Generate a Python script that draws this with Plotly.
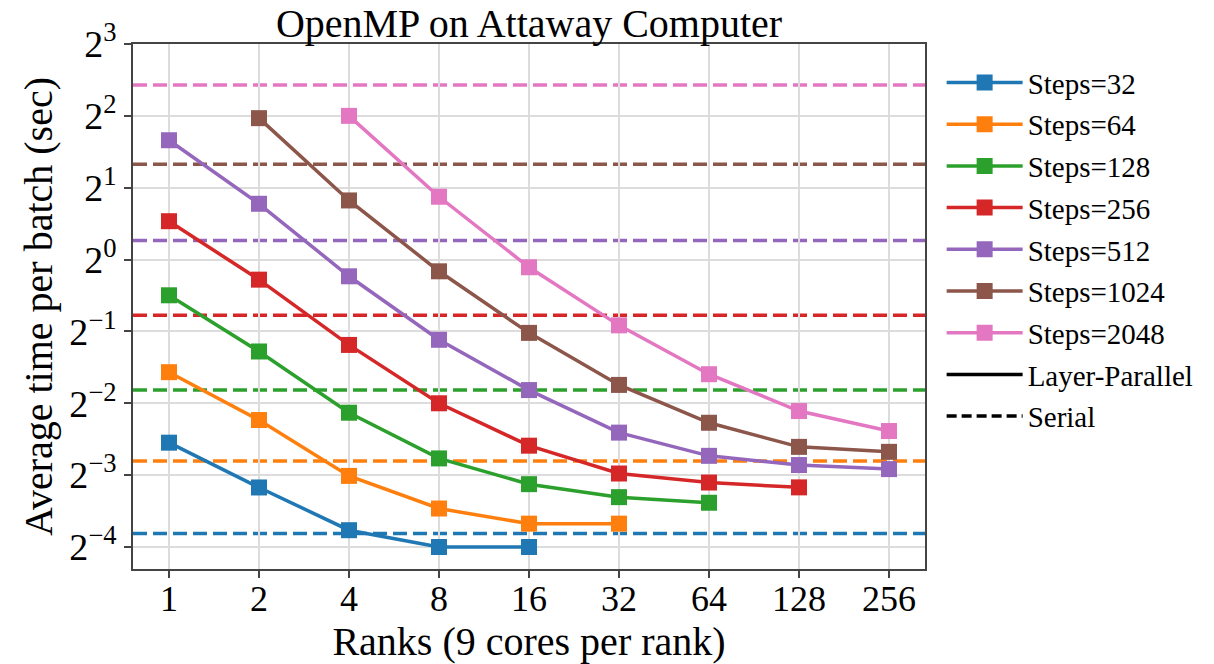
import plotly.graph_objects as go

# Ranks (x axis)
ranks = [1, 2, 4, 8, 16, 32, 64, 128, 256]

# Layer-parallel average time per batch (sec) for each number of steps
steps_32 = [0.1710, 0.1110, 0.0735, 0.0625, 0.0625]
steps_64 = [0.3375, 0.2127, 0.1241, 0.0906, 0.0783, 0.0783]
steps_128 = [0.7086, 0.4121, 0.2283, 0.1469, 0.1146, 0.1011, 0.0958]
steps_256 = [1.448, 0.824, 0.4390, 0.2500, 0.1661, 0.1270, 0.1164, 0.1111]
steps_512 = [3.162, 1.713, 0.851, 0.4613, 0.2840, 0.1884, 0.1506, 0.1378, 0.1325]
steps_1024 = [3.912, 1.769, 0.893, 0.4931, 0.2985, 0.2072, 0.1642, 0.1565]
steps_2048 = [4.000, 1.833, 0.9285, 0.5302, 0.3310, 0.2320, 0.1913]

# First rank count at which each series starts
start_rank = {32: 1, 64: 1, 128: 1, 256: 1, 512: 1, 1024: 2, 2048: 4}

# Serial (single process) time per batch (sec)
serial_steps = [32, 64, 128, 256, 512, 1024, 2048]
serial_time = [0.0712, 0.1432, 0.2840, 0.5838, 1.2017, 2.507, 5.382]

series = {
    32: steps_32, 64: steps_64, 128: steps_128, 256: steps_256,
    512: steps_512, 1024: steps_1024, 2048: steps_2048,
}
colors = {
    32: "#1f77b4", 64: "#ff7f0e", 128: "#2ca02c", 256: "#d62728",
    512: "#9467bd", 1024: "#8c564b", 2048: "#e377c2",
}

y_ticks = [2.0 ** k for k in range(-4, 4)]
y_ticktext = ["2<sup>%s</sup>" % (str(k).replace("-", "\u2212")) for k in range(-4, 4)]

FONT = "Liberation Serif"

fig = go.Figure()

# serial reference times as horizontal dashed lines across the axes
for n, t in zip(serial_steps, serial_time):
    fig.add_hline(y=t, line=dict(color=colors[n], width=3.5, dash="14px,6px"),
                  layer="below")

for n, vals in series.items():
    i0 = ranks.index(start_rank[n])
    xs = ranks[i0:i0 + len(vals)]
    fig.add_trace(go.Scatter(
        x=xs, y=vals, mode="lines+markers", name="Steps=%d" % n,
        legendgroup=str(n),
        line=dict(color=colors[n], width=3.5),
        marker=dict(symbol="square", size=16, color=colors[n]),
    ))

# legend-only entries for the line styles
fig.add_trace(go.Scatter(x=[None], y=[None], mode="lines", name="Layer-Parallel",
                         legendgroup="lp", line=dict(color="black", width=3.5)))
fig.add_trace(go.Scatter(x=[None], y=[None], mode="lines", name="Serial",
                         legendgroup="serial",
                         line=dict(color="black", width=3.5, dash="10px,5px")))

axis_common = dict(
    showline=True, mirror=True, linecolor="#444", linewidth=1.5,
    ticks="outside", ticklen=7, tickwidth=1.5, tickcolor="#444",
    showgrid=True, gridcolor="#dcdcdc", gridwidth=1.5,
    zeroline=False,
    title_font=dict(family=FONT, size=40, color="black"),
)

fig.update_xaxes(
    type="log", tickmode="array", tickvals=ranks,
    ticktext=[str(r) for r in ranks],
    range=[-0.4 * 0.30103, 8.4 * 0.30103],
    tickfont=dict(family=FONT, size=36, color="black"),
    title_text="Ranks (9 cores per rank)", title_standoff=0,
    ticklabelstandoff=-10,
    **axis_common,
)
fig.update_yaxes(
    type="log", tickmode="array", tickvals=y_ticks, ticktext=y_ticktext,
    range=[-4.306 * 0.30103, 3 * 0.30103],
    tickfont=dict(family=FONT, size=38, color="black"),
    title_text="Average time per batch (sec)", title_standoff=4,
    **axis_common,
)

fig.update_layout(
    width=1214, height=664,
    margin=dict(l=133, r=289, t=44, b=95),
    paper_bgcolor="white", plot_bgcolor="white",
    title=dict(text="OpenMP on Attaway Computer", x=(133 + 396) / 1214,
               xanchor="center", y=0.965, yanchor="middle",
               font=dict(family=FONT, size=40, color="black")),
    legend=dict(x=1.021, y=0.975, xanchor="left", yanchor="top",
                font=dict(family=FONT, size=29, color="black"),
                tracegroupgap=1, traceorder="grouped", itemwidth=76,
                bgcolor="rgba(0,0,0,0)"),
    showlegend=True,
)

fig.write_html("out.html")
